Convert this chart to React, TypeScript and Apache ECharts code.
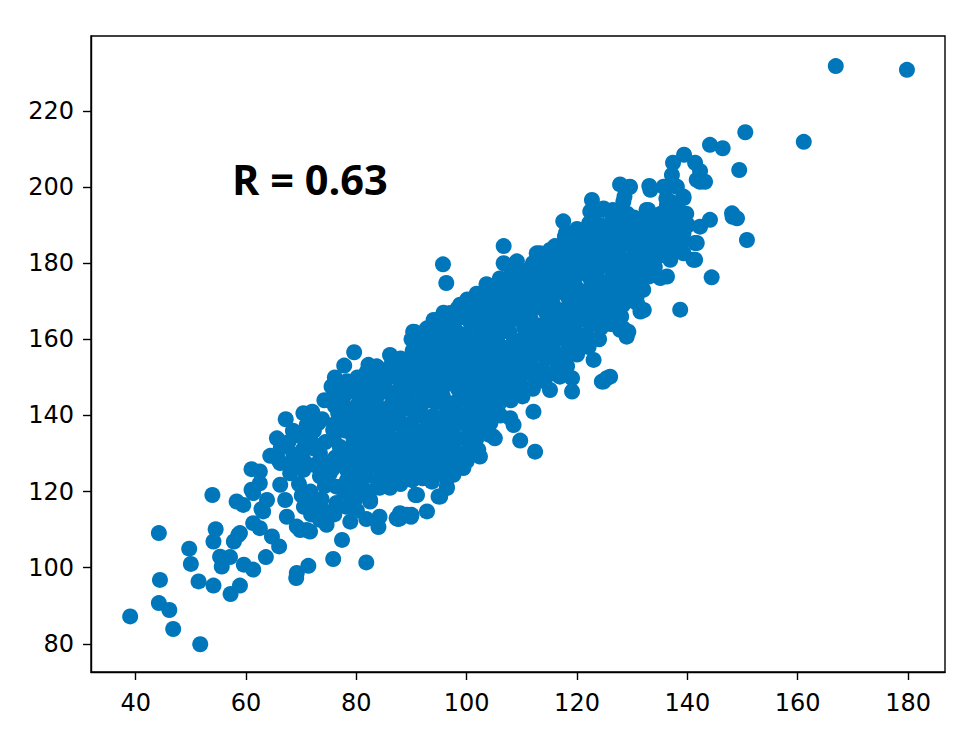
import React, { useEffect, useRef } from "react";
import * as echarts from "echarts";

const xTicks = [40, 60, 80, 100, 120, 140, 160, 180];
const yTicks = [80, 100, 120, 140, 160, 180, 200, 220];
const annotation = "R = 0.63";

// lower-left tail
const tailPoints: number[][] = [
  [39.0, 87.2], [44.2, 109.1], [44.4, 96.8], [44.2, 90.7], [46.1, 88.9], [46.8, 83.9], [51.7, 79.9],
  [49.7, 105.0], [50.0, 101.0], [51.4, 96.4], [54.1, 95.3], [53.9, 119.1], [54.5, 110.1], [54.1, 106.9],
  [55.3, 102.9], [55.6, 100.3], [57.1, 102.8], [57.2, 93.1], [58.9, 95.3], [57.8, 106.9], [58.6, 108.6],
  [59.6, 100.8], [61.3, 99.5], [61.3, 111.7], [62.5, 110.4], [63.6, 102.8], [64.7, 108.2], [66.0, 105.6],
  [58.3, 117.4], [59.5, 116.5], [62.8, 115.4], [61.0, 120.5], [61.0, 125.9], [62.5, 125.3], [64.4, 129.4],
  [65.9, 128.3], [66.2, 121.8], [67.1, 117.8], [68.6, 129.7], [72.2, 131.4], [69.2, 98.6], [69.1, 97.3],
  [71.3, 100.5], [69.8, 109.9], [71.6, 109.5], [74.6, 111.3], [75.8, 102.3], [77.4, 107.3], [78.9, 112.1],
  [81.8, 101.4], [81.8, 112.8], [84.0, 110.7], [84.2, 113.4], [87.6, 112.8], [89.9, 113.4], [82.5, 117.4],
  [90.7, 119.1], [70.5, 116.0], [72.5, 118.0], [73.8, 114.5], [71.8, 114.0],
];

// edge of the cloud, lower and left side
const edgePointsA: number[][] = [
  [67.2, 139.0], [70.4, 140.6], [71.0, 137.5], [73.1, 138.0], [79.6, 156.6], [77.8, 153.1], [82.2, 153.3],
  [86.1, 155.9], [87.9, 154.4], [75.5, 147.6], [77.9, 146.7], [79.5, 147.7], [76.1, 142.5], [76.7, 140.6],
  [75.8, 136.2], [66.2, 127.5], [68.0, 124.8], [70.4, 125.7], [73.4, 124.0], [62.5, 122.2], [61.3, 119.6],
  [63.8, 117.8], [63.1, 114.8], [58.9, 109.1], [67.4, 113.4], [69.2, 110.8], [71.0, 109.9], [73.4, 112.6],
  [87.9, 113.0], [90.0, 113.9], [92.8, 114.8], [91.0, 119.1], [94.9, 118.7], [96.4, 121.3], [99.4, 126.2],
  [97.6, 124.4], [82.5, 117.8], [79.5, 119.6], [76.4, 121.3], [75.2, 124.8], [78.3, 125.7], [80.7, 122.2],
  [84.3, 121.3], [86.7, 124.8], [91.6, 125.7], [94.6, 127.5], [89.1, 129.2], [82.5, 131.0], [79.5, 133.6],
  [77.0, 131.8], [73.4, 130.1], [70.4, 128.3], [80.7, 140.6], [79.5, 137.1], [81.3, 136.2], [78.3, 139.7],
  [81.3, 145.0], [83.7, 150.2], [81.9, 151.5], [83.7, 152.9],
];

// edge of the cloud, middle section
const edgePointsB: number[][] = [
  [106.7, 184.5], [95.7, 179.7], [96.3, 174.8], [90.6, 161.9], [88.2, 154.6], [98.8, 169.1], [97.0, 166.9],
  [94.6, 165.1], [92.8, 162.9], [102.4, 168.2], [104.2, 173.9], [106.7, 180.0], [109.1, 180.5], [112.7, 182.6],
  [115.1, 183.5], [117.8, 187.0], [72.8, 138.0], [76.3, 142.9], [112.1, 141.0], [107.9, 139.3], [108.5, 137.5],
  [109.7, 133.4], [112.4, 130.5], [105.1, 134.0], [102.4, 129.2], [96.4, 123.5], [93.7, 122.6], [89.1, 113.9],
  [87.3, 113.0], [104.8, 134.5], [96.4, 120.9], [95.2, 118.7], [87.9, 114.3], [119.1, 146.3], [115.1, 146.7],
  [119.1, 149.8], [124.5, 148.9], [126.0, 150.2], [123.0, 154.6], [129.0, 160.7], [127.8, 162.5], [126.6, 166.9],
  [90.3, 162.0], [94.0, 165.1], [118.2, 152.9], [116.9, 150.2],
];

// upper-right part of the cloud
const upperPoints: number[][] = [
  [150.8, 186.1], [148.1, 193.1], [149.0, 191.8], [144.1, 191.4], [142.3, 189.6], [144.4, 176.3], [138.7, 167.8],
  [141.4, 180.9], [141.4, 185.3], [139.3, 187.9], [138.1, 187.9], [139.3, 182.6], [136.9, 180.9], [136.3, 176.5],
  [135.1, 176.1], [133.0, 176.5], [132.1, 180.0], [130.9, 169.5], [131.5, 167.3], [126.9, 166.4], [129.3, 162.0],
  [128.4, 162.9], [125.4, 149.8], [124.8, 148.9], [133.3, 199.3], [137.5, 200.6], [142.3, 201.4], [129.6, 200.1],
  [128.4, 196.2], [132.9, 194.0], [136.9, 194.0], [139.3, 197.1], [122.7, 196.6], [122.4, 193.6], [124.8, 194.0],
  [127.8, 193.1], [129.6, 190.1], [131.5, 189.2], [134.5, 189.6], [135.1, 186.1], [132.6, 184.4], [131.5, 181.7],
  [150.5, 214.4], [144.1, 211.1], [146.4, 210.2], [149.4, 204.5], [139.4, 208.5], [137.4, 206.4], [141.4, 206.4],
  [142.3, 204.2], [143.2, 201.4], [141.7, 201.9], [137.2, 203.2], [129.5, 200.0], [133.1, 200.3], [135.7, 200.1],
  [138.1, 200.1], [127.8, 200.7], [124.8, 194.4], [132.6, 194.0], [136.3, 195.3], [139.3, 197.5], [117.5, 191.0],
  [113.3, 182.6], [103.6, 174.5], [129.6, 189.6], [133.9, 189.6], [138.4, 187.9], [141.7, 185.3], [141.1, 180.9],
  [130.8, 171.2], [132.1, 167.7],
];

// far outliers
const outlierPoints: number[][] = [
  [161.1, 211.9], [166.9, 231.8], [179.8, 230.8], [148.2, 192.2],
];

// dense core, left part
const coreLeft: number[][] = [
  [66.3, 131.5], [65.6, 134], [68.2, 127.5], [67.7, 133], [68.5, 136],
  [70.1, 119], [69.6, 122], [70.3, 131], [69.9, 134.5],
  [72.2, 116], [71.7, 120], [72.4, 127], [71.9, 133], [72.3, 136], [72.0, 141],
  [74.1, 115], [73.7, 118], [74.3, 121.5], [73.9, 128], [74.4, 133], [73.8, 139], [74.2, 144],
  [76.0, 114], [76.4, 117], [75.7, 126], [76.2, 129], [75.9, 134], [76.3, 138], [75.8, 145], [76.1, 150],
  [78.2, 116], [77.8, 120], [78.3, 123], [77.9, 128], [78.4, 131], [78.0, 136], [78.2, 142], [77.7, 145], [78.3, 149],
  [80.1, 115], [79.8, 118], [80.3, 121], [80.0, 125], [80.4, 128.5], [79.9, 132], [80.2, 135], [79.7, 139], [80.3, 143], [80.0, 146], [80.2, 150],
  [82.1, 120], [81.8, 124], [82.3, 127], [81.9, 130], [82.2, 134], [82.0, 138], [81.7, 141], [82.4, 144], [82.1, 148], [81.8, 151],
  [84.2, 121], [83.8, 123], [84.3, 126], [83.9, 129], [84.1, 132], [84.4, 135.5], [83.8, 139], [84.2, 142], [84.0, 145.5], [84.3, 149], [83.9, 152],
  [86.1, 121], [85.8, 124], [86.3, 127], [85.9, 130.5], [86.2, 134], [86.0, 137], [85.7, 140], [86.4, 143], [86.1, 146], [85.8, 150], [86.2, 153],
  [88.0, 122], [88.3, 125], [87.8, 128], [88.2, 131], [88.0, 134], [88.4, 137], [87.7, 140], [88.1, 143], [88.3, 146], [87.9, 149], [88.2, 152], [88.0, 155],
];

// dense core, middle part
const coreMiddle: number[][] = [
  [90.1, 123], [89.8, 125.5], [90.3, 128.5], [89.9, 132], [90.2, 135], [90.0, 138], [90.4, 141], [89.7, 144], [90.1, 147.5], [90.3, 150.5], [89.9, 153.5], [90.2, 157], [90.0, 160],
  [92.0, 123.5], [92.3, 127], [91.8, 130], [92.2, 133], [92.0, 136], [92.4, 139.5], [91.7, 142.5], [92.1, 145.5], [92.3, 149], [91.9, 152], [92.2, 155], [92.0, 158], [92.3, 161],
  [94.1, 124.5], [93.8, 128], [94.3, 131], [93.9, 134], [94.2, 137], [94.0, 140], [94.4, 143.5], [93.7, 146.5], [94.1, 150], [94.3, 153], [93.9, 156], [94.2, 159], [94.0, 162.5],
  [96.0, 126], [96.3, 129], [95.8, 132.5], [96.2, 135.5], [96.0, 138.5], [96.4, 142], [95.7, 145], [96.1, 148], [96.3, 151], [95.9, 154], [96.2, 157.5], [96.0, 160.5], [96.3, 163.5], [95.8, 167],
  [98.1, 127], [97.8, 131], [98.3, 134], [97.9, 137.5], [98.2, 140.5], [98.0, 143.5], [98.4, 147], [97.7, 150], [98.1, 153], [98.3, 156], [97.9, 159], [98.2, 162], [98.0, 165], [98.3, 168],
  [100.0, 128], [100.3, 131], [99.8, 134], [100.2, 137], [100.0, 140], [100.4, 143], [99.7, 146.5], [100.1, 149.5], [100.3, 152.5], [99.9, 155.5], [100.2, 158.5], [100.0, 161.5], [100.4, 165], [99.8, 168], [100.1, 170.5],
  [102.1, 131], [101.8, 134], [102.3, 137], [101.9, 140], [102.2, 143], [102.0, 146], [102.4, 149], [101.7, 152], [102.1, 155], [102.3, 158], [101.9, 161], [102.2, 164], [102.0, 167], [102.3, 170], [101.8, 172],
  [104.0, 135], [104.3, 138], [103.8, 141], [104.2, 144], [104.0, 147], [104.4, 150], [103.7, 153], [104.1, 156.5], [104.3, 159.5], [103.9, 162.5], [104.2, 165.5], [104.0, 168.5], [104.3, 171.5], [103.8, 174],
  [106.1, 140], [105.8, 143], [106.3, 146], [105.9, 149], [106.2, 152], [106.0, 155], [106.4, 158], [105.7, 161], [106.1, 164], [106.3, 167], [105.9, 170], [106.2, 173], [106.0, 176],
  [108.0, 144], [108.3, 147], [107.8, 150], [108.2, 153], [108.0, 156], [108.4, 159], [107.7, 162], [108.1, 165], [108.3, 168], [107.9, 171], [108.2, 174], [108.0, 177],
];

// dense core, right part
const coreRight: number[][] = [
  [110.1, 145], [109.8, 148], [110.3, 151], [109.9, 154], [110.2, 157], [110.0, 160], [110.4, 163], [109.7, 166], [110.1, 169], [110.3, 172], [109.9, 175], [110.2, 178],
  [112.0, 147], [112.3, 150], [111.8, 153], [112.2, 156], [112.0, 159], [112.4, 162], [111.7, 165], [112.1, 168], [112.3, 171], [111.9, 174], [112.2, 177], [112.0, 180],
  [114.1, 149], [113.8, 152], [114.3, 155], [113.9, 158], [114.2, 161], [114.0, 164], [114.4, 167], [113.7, 170], [114.1, 173], [114.3, 176], [113.9, 179], [114.2, 182],
  [116.0, 151], [116.3, 154], [115.8, 157], [116.2, 160], [116.0, 163], [116.4, 166], [115.7, 169], [116.1, 172], [116.3, 175], [115.9, 178], [116.2, 181], [116.0, 184.5],
  [118.1, 153], [117.8, 156], [118.3, 159], [117.9, 162], [118.2, 165], [118.0, 168], [118.4, 171], [117.7, 174], [118.1, 177], [118.3, 180], [117.9, 183], [118.2, 186], [118.0, 188],
  [120.0, 156], [120.3, 159], [119.8, 162], [120.2, 165], [120.0, 168], [120.4, 171], [119.7, 174], [120.1, 177], [120.3, 180], [119.9, 183], [120.2, 186], [120.0, 189],
  [122.1, 158], [121.8, 161], [122.3, 164], [121.9, 167], [122.2, 170], [122.0, 173], [122.4, 176], [121.7, 179], [122.1, 182], [122.3, 185], [121.9, 188], [122.2, 190.5],
  [124.0, 160], [124.3, 163], [123.8, 166], [124.2, 169], [124.0, 172], [124.4, 175], [123.7, 178], [124.1, 181], [124.3, 184], [123.9, 187], [124.2, 190],
  [126.1, 164], [125.8, 167], [126.3, 170], [125.9, 173], [126.2, 176], [126.0, 179], [126.4, 182], [125.7, 185], [126.1, 188], [126.3, 191],
  [128.0, 166], [128.3, 169], [127.8, 172], [128.2, 175], [128.0, 178], [128.4, 181], [127.7, 184], [128.1, 187], [128.3, 190],
  [130.1, 172], [129.8, 175], [130.3, 178], [129.9, 181], [130.2, 184], [130.0, 187], [130.3, 192],
  [132.0, 173], [132.3, 177], [131.8, 186], [132.2, 191],
  [134.1, 179], [133.8, 182], [134.3, 185], [133.9, 192],
  [136.0, 183], [136.3, 188], [135.8, 191], [136.2, 197],
  [138.1, 184], [137.8, 191], [138.3, 194],
  [140.1, 190], [139.8, 193],
];

// extra points that close the gaps inside the core
const coreFill: number[][] = [
  [79.0, 126.5], [79.2, 141], [81.0, 133], [81.2, 129], [81.0, 146], [83.0, 137], [83.1, 131], [83.0, 143.5],
  [85.0, 128], [85.1, 135], [85.0, 141.5], [85.2, 147.5], [87.0, 126], [87.1, 132.5], [87.0, 138.5], [87.2, 144.5],
  [87.0, 151], [89.0, 124], [89.1, 130], [89.0, 136], [89.2, 142], [89.0, 148], [89.1, 154], [91.0, 126],
  [91.1, 134], [91.0, 141], [91.2, 148], [91.0, 156], [93.0, 129], [93.1, 137], [93.0, 144], [93.1, 151],
  [93.0, 159], [95.0, 130], [95.0, 139], [95.0, 147], [95.0, 155], [95.0, 162], [97.0, 133], [97.0, 141],
  [97.0, 149], [97.0, 157], [97.0, 164], [99.0, 130], [99.0, 138.5], [99.0, 145], [99.0, 152], [99.0, 160],
  [99.0, 166], [101.0, 133], [101.0, 141], [101.0, 148], [101.0, 157], [101.0, 165], [103.0, 136], [103.0, 143],
  [103.0, 151], [103.0, 160], [103.0, 168], [123.0, 178], [123.2, 185], [123.0, 191.5], [125.0, 171], [125.2, 180],
  [125.0, 187], [127.0, 168], [127.2, 177], [127.0, 183], [127.1, 190], [129.0, 170], [129.2, 179], [129.0, 185.5],
  [129.1, 193], [131.0, 176], [131.2, 183], [131.0, 188], [133.0, 180], [133.2, 186.5], [135.0, 182], [135.2, 193],
  [137.0, 186], [137.2, 196], [139.0, 185.5], [128.6, 197.5], [126.5, 194],
];

const allPoints = [
  ...tailPoints, ...edgePointsA, ...edgePointsB, ...upperPoints, ...outlierPoints,
  ...coreLeft, ...coreMiddle, ...coreRight, ...coreFill,
];

const BLUE = "#0077BB";
const axisColor = "#000000";

export default function App() {
  const ref = useRef<HTMLDivElement>(null);
  useEffect(() => {
    if (!ref.current) return;
    const chart = echarts.init(ref.current, null, { renderer: "svg" });
    const labelFont = {
      fontFamily: "DejaVu Sans",
      fontSize: 24,
      color: "#000",
    };
    chart.setOption({
      animation: false,
      backgroundColor: "#ffffff",
      grid: {
        left: 91,
        right: 27,
        top: 36,
        bottom: 68,
        show: true,
        borderColor: axisColor,
        borderWidth: 1.4,
        backgroundColor: "transparent",
      },
      xAxis: {
        type: "value",
        min: 31.9,
        max: 186.7,
        axisLine: { show: true, onZero: false, lineStyle: { color: axisColor, width: 1.4 } },
        axisTick: {
          show: true,
          length: 8,
          customValues: xTicks,
          lineStyle: { color: axisColor, width: 1.4 },
        },
        axisLabel: { ...labelFont, margin: 19, customValues: xTicks, formatter: (v: number) => String(v) },
        splitLine: { show: false },
      },
      yAxis: {
        type: "value",
        min: 72.6,
        max: 239.7,
        axisLine: { show: true, onZero: false, lineStyle: { color: axisColor, width: 1.4 } },
        axisTick: {
          show: true,
          length: 8,
          customValues: yTicks,
          lineStyle: { color: axisColor, width: 1.4 },
        },
        axisLabel: { ...labelFont, margin: 17, customValues: yTicks, formatter: (v: number) => String(v) },
        splitLine: { show: false },
      },
      series: [
        {
          type: "scatter",
          data: allPoints,
          symbol: "circle",
          symbolSize: 16,
          itemStyle: { color: BLUE, opacity: 1 },
          silent: true,
        },
      ],
      graphic: [
        {
          type: "text",
          left: 232,
          top: 158,
          style: {
            text: annotation,
            fill: "#000",
            font: 'bold 41.5px "Open Sans"',
          },
        },
      ],
    });
    return () => chart.dispose();
  }, []);
  return (
    <div
      ref={ref}
      style={{ position: "fixed", left: 0, top: 0, width: 972, height: 740, background: "#fff" }}
    />
  );
}
